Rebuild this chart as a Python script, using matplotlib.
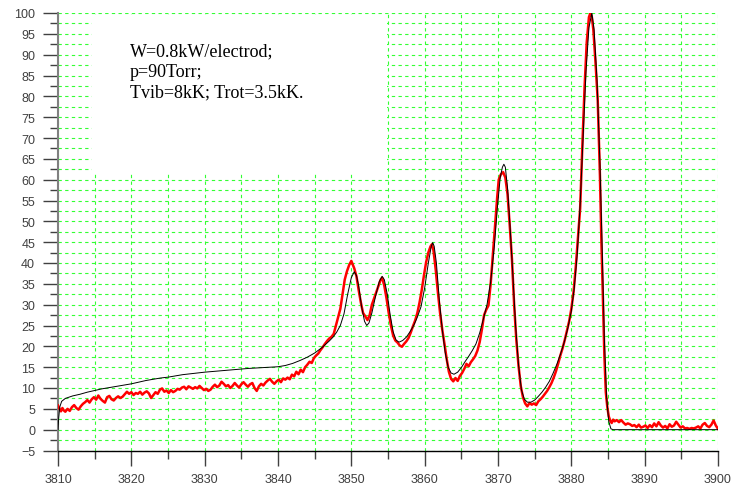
import numpy as np
import matplotlib
matplotlib.use("Agg")
import matplotlib.pyplot as plt
from matplotlib.patches import Rectangle
from matplotlib.ticker import MultipleLocator

# measured spectrum (red)
meas_x = [3810.0, 3810.2, 3810.4, 3810.6, 3810.8, 3811.0, 3811.3, 3811.6, 3811.9, 3812.2,
          3812.5, 3812.8, 3813.1, 3813.4, 3813.7, 3814.0, 3814.3, 3814.6, 3814.9, 3815.2,
          3815.5, 3815.8, 3816.1, 3816.4, 3816.7, 3817.0, 3817.3, 3817.6, 3817.9, 3818.2,
          3818.5, 3818.8, 3819.1, 3819.4, 3819.7, 3820.0, 3820.3, 3820.6, 3820.9, 3821.2,
          3821.5, 3821.8, 3822.1, 3822.4, 3822.7, 3823.0, 3823.3, 3823.6, 3823.9, 3824.2,
          3824.5, 3824.8, 3825.1, 3825.4, 3825.7, 3826.0, 3826.3, 3826.6, 3826.9, 3827.2,
          3827.5, 3827.8, 3828.1, 3828.4, 3828.7, 3829.0, 3829.3, 3829.6, 3829.9, 3830.2,
          3830.5, 3830.8, 3831.1, 3831.4, 3831.7, 3832.0, 3832.3, 3832.6, 3832.9, 3833.2,
          3833.5, 3833.8, 3834.1, 3834.4, 3834.7, 3835.0, 3835.3, 3835.6, 3835.9, 3836.2,
          3836.5, 3836.8, 3837.1, 3837.4, 3837.7, 3838.0, 3838.3, 3838.6, 3838.9, 3839.2,
          3839.5, 3839.8, 3840.1, 3840.4, 3840.7, 3841.0, 3841.3, 3841.6, 3841.9, 3842.2,
          3842.5, 3842.8, 3843.1, 3843.4, 3843.7, 3844.0, 3844.3, 3844.6, 3844.9, 3845.2,
          3845.5, 3845.8, 3846.1, 3846.4, 3846.7, 3847.0, 3847.3, 3847.6, 3847.9, 3848.2,
          3848.5, 3848.8, 3849.1, 3849.4, 3849.7, 3850.0, 3850.2, 3850.4, 3850.7, 3851.0,
          3851.3, 3851.6, 3851.9, 3852.2, 3852.5, 3852.8, 3853.1, 3853.4, 3853.7, 3854.0,
          3854.2, 3854.5, 3854.8, 3855.1, 3855.4, 3855.7, 3856.0, 3856.3, 3856.6, 3856.9,
          3857.2, 3857.5, 3857.8, 3858.1, 3858.4, 3858.7, 3859.0, 3859.3, 3859.6, 3859.9,
          3860.2, 3860.5, 3860.8, 3861.0, 3861.2, 3861.5, 3861.8, 3862.1, 3862.4, 3862.7,
          3863.0, 3863.3, 3863.6, 3863.9, 3864.2, 3864.5, 3864.8, 3865.1, 3865.4, 3865.7,
          3866.0, 3866.3, 3866.6, 3866.9, 3867.2, 3867.5, 3867.8, 3868.1, 3868.4, 3868.7,
          3869.0, 3869.3, 3869.6, 3869.9, 3870.1, 3870.4, 3870.7, 3871.0, 3871.3, 3871.6,
          3871.9, 3872.2, 3872.5, 3872.8, 3873.1, 3873.4, 3873.7, 3874.0, 3874.3, 3874.6,
          3874.9, 3875.2, 3875.5, 3875.8, 3876.1, 3876.4, 3876.7, 3877.0, 3877.3, 3877.6,
          3877.9, 3878.2, 3878.5, 3878.8, 3879.1, 3879.4, 3879.7, 3880.0, 3880.3, 3880.6,
          3880.9, 3881.2, 3881.5, 3881.8, 3882.1, 3882.4, 3882.6, 3882.8, 3883.0, 3883.3,
          3883.6, 3883.9, 3884.1, 3884.3, 3884.5, 3884.7, 3884.9, 3885.1, 3885.3, 3885.5,
          3885.7, 3885.9, 3886.2, 3886.5, 3886.8, 3887.1, 3887.4, 3887.7, 3888.0, 3888.3,
          3888.6, 3888.9, 3889.2, 3889.5, 3889.8, 3890.1, 3890.4, 3890.7, 3891.0, 3891.3,
          3891.6, 3891.9, 3892.2, 3892.5, 3892.8, 3893.1, 3893.4, 3893.7, 3894.0, 3894.3,
          3894.6, 3894.9, 3895.2, 3895.5, 3895.8, 3896.1, 3896.4, 3896.7, 3897.0, 3897.3,
          3897.6, 3897.9, 3898.2, 3898.5, 3898.8, 3899.1, 3899.4, 3899.7, 3900.0]
meas_y = [5.8, 5.0, 4.4, 5.2, 4.6, 4.3, 5.0, 4.5, 5.4, 5.9,
          5.2, 4.8, 5.6, 6.2, 6.6, 7.1, 6.5, 7.3, 7.8, 7.2,
          8.2, 7.4, 6.9, 6.5, 7.8, 8.1, 7.3, 7.0, 7.6, 8.0,
          7.6, 7.9, 8.5, 9.1, 8.6, 9.0, 8.3, 8.8, 8.6, 9.1,
          8.4, 8.9, 9.2, 8.7, 7.6, 8.3, 9.0, 8.6, 9.6, 9.9,
          9.1, 9.4, 8.8, 9.5, 9.0, 9.3, 9.8, 9.6, 10.1, 10.3,
          9.7, 10.4, 10.1, 9.8, 10.2, 9.9, 10.5, 10.0, 9.5, 9.8,
          9.3, 9.6, 10.3, 10.8, 10.2, 10.6, 11.5, 11.0, 10.4, 10.7,
          10.0, 10.5, 11.2, 10.6, 10.1, 10.9, 11.4, 10.8, 10.3, 10.9,
          11.2, 10.0, 9.3, 10.4, 11.0, 10.6, 11.3, 11.8, 12.2, 11.5,
          11.0, 11.6, 12.0, 11.4, 12.3, 12.0, 12.5, 12.1, 13.2, 12.8,
          13.9, 13.3, 14.4, 13.8, 15.0, 15.6, 16.3, 16.0, 17.2, 17.8,
          18.3, 19.1, 19.8, 20.6, 21.3, 21.9, 22.3, 23.0, 25.0, 27.0,
          29.0, 32.5, 36.0, 38.0, 39.5, 40.5, 39.6, 38.7, 36.8, 33.5,
          30.5, 28.0, 27.2, 26.3, 27.5, 30.0, 31.5, 33.0, 34.5, 36.0,
          36.5, 34.5, 31.5, 28.0, 25.0, 22.6, 21.4, 20.9, 20.2, 19.9,
          20.6, 21.2, 22.0, 23.3, 24.8, 26.2, 28.0, 30.5, 33.5, 37.0,
          40.2, 42.5, 44.0, 44.5, 43.0, 38.5, 33.0, 28.0, 24.0, 20.6,
          17.0, 13.9, 12.2, 11.6, 12.4, 11.7, 12.9, 13.6, 14.6, 15.8,
          15.2, 16.2, 16.9, 17.7, 19.0, 21.0, 24.0, 27.5, 28.8, 29.8,
          35.0, 42.0, 49.0, 56.0, 60.0, 61.3, 61.8, 60.5, 56.5, 49.0,
          41.0, 30.0, 21.5, 15.3, 10.5, 7.8, 6.3, 5.6, 6.4, 6.0,
          6.3, 5.9, 6.8, 7.3, 7.9, 8.6, 9.3, 10.2, 11.2, 12.5,
          14.0, 15.8, 17.8, 19.5, 21.5, 23.8, 26.0, 29.0, 33.0, 39.0,
          46.0, 53.0, 68.0, 82.0, 93.0, 99.0, 100.0, 99.0, 96.0, 88.0,
          79.0, 61.0, 45.0, 32.0, 18.0, 9.0, 5.5, 3.2, 2.2, 1.6,
          2.4, 2.0, 2.3, 1.8, 2.3, 1.7, 1.2, 1.5, 1.3, 0.9,
          1.1, 0.6, 1.2, 0.5, 0.7, 1.0, 0.4, 1.1, 0.6, 1.5,
          0.8, 1.8, 1.0, 0.5, 0.9, 0.3, 1.3, 0.7, 1.0, 1.9,
          1.2, 0.5, 0.8, 0.3, 0.4, 0.2, 0.4, 0.3, 0.5, 0.8,
          0.3, 1.2, 1.6, 0.9, 0.6, 1.2, 2.2, 1.0, 0.2]

# simulated spectrum (black)
sim_x = [3810.0, 3810.1, 3810.25, 3810.5, 3811.0, 3812.0, 3813.0, 3814.0, 3815.0, 3816.0,
         3817.0, 3818.0, 3819.0, 3820.0, 3821.0, 3822.0, 3823.0, 3824.0, 3825.0, 3826.0,
         3827.0, 3828.0, 3830.0, 3832.0, 3834.0, 3836.0, 3838.0, 3840.0, 3841.0, 3842.0,
         3843.0, 3844.0, 3845.0, 3846.0, 3847.0, 3847.5, 3848.0, 3848.5, 3849.0, 3849.5,
         3850.0, 3850.4, 3850.7, 3851.0, 3851.4, 3851.8, 3852.1, 3852.4, 3852.8, 3853.3,
         3853.8, 3854.2, 3854.5, 3854.9, 3855.3, 3855.7, 3856.1, 3856.5, 3857.0, 3857.5,
         3858.0, 3858.5, 3859.0, 3859.5, 3860.0, 3860.5, 3860.9, 3861.1, 3861.3, 3861.6,
         3862.0, 3862.4, 3862.8, 3863.2, 3863.6, 3864.0, 3864.5, 3865.0, 3865.5, 3866.0,
         3866.5, 3867.0, 3867.5, 3868.0, 3868.5, 3869.0, 3869.5, 3869.9, 3870.3, 3870.6,
         3870.8, 3871.0, 3871.3, 3871.6, 3872.0, 3872.4, 3872.8, 3873.2, 3873.6, 3874.0,
         3874.5, 3875.0, 3875.5, 3876.0, 3876.5, 3877.0, 3877.5, 3878.0, 3878.5, 3879.0,
         3879.5, 3880.0, 3880.4, 3880.8, 3881.2, 3881.6, 3882.0, 3882.4, 3882.8, 3883.1,
         3883.5, 3883.9, 3884.2, 3884.5, 3884.8, 3885.1, 3885.4, 3885.7, 3900.0]
sim_y = [0.0, 3.0, 5.5, 6.8, 7.5, 8.1, 8.5, 9.0, 9.4, 9.8,
         10.1, 10.4, 10.7, 11.0, 11.4, 11.8, 12.1, 12.4, 12.6, 12.9,
         13.2, 13.4, 13.8, 14.1, 14.4, 14.7, 14.9, 15.1, 15.4, 15.9,
         16.6, 17.4, 18.4, 19.7, 21.3, 22.2, 23.4, 25.0, 27.8, 32.5,
         36.5, 37.9, 37.0, 34.5, 29.5, 26.0, 25.0, 25.6, 28.0, 32.0,
         35.5, 36.8, 36.0, 32.5, 27.5, 23.5, 21.5, 21.0, 21.4, 22.2,
         23.5, 25.0, 27.0, 29.5, 34.0, 40.0, 44.0, 44.9, 44.0, 40.0,
         31.0, 24.0, 18.5, 15.0, 13.6, 13.3, 13.8, 14.9, 16.3, 17.6,
         19.0, 20.6, 23.2, 26.5, 30.0, 35.5, 44.0, 53.0, 60.5, 63.0,
         63.7, 63.0, 58.0, 50.0, 38.0, 25.0, 15.5, 9.5, 7.3, 6.6,
         6.6, 7.1, 8.0, 9.0, 10.2, 11.6, 13.5, 15.6, 18.0, 20.8,
         24.2, 28.5, 34.0, 42.0, 54.0, 70.0, 86.0, 96.5, 100.0, 96.0,
         84.0, 64.0, 44.0, 22.0, 8.0, 2.0, 0.2, 0.0, 0.0]

note = "W=0.8kW/electrod;\np=90Torr;\nTvib=8kK; Trot=3.5kK."

plt.rcParams['font.family'] = ['Liberation Sans', 'DejaVu Sans']

fig = plt.figure(figsize=(7.34, 4.89), dpi=100)
ax = fig.add_axes([58/734, 37.5/489, 660/734, 437.5/489])

ax.set_xlim(3810, 3900)
ax.set_ylim(-5, 100)

ax.xaxis.set_major_locator(MultipleLocator(10))
ax.xaxis.set_minor_locator(MultipleLocator(5))
ax.yaxis.set_major_locator(MultipleLocator(5))
ax.yaxis.set_minor_locator(MultipleLocator(2.5))

ax.set_axisbelow(True)
ax.grid(which='both', color='#33ff33', linestyle=(0, (3, 3)), linewidth=0.8)

for s in ['top', 'right']:
    ax.spines[s].set_visible(False)
ax.spines['left'].set_color('#808080')
ax.spines['left'].set_linewidth(1.5)
ax.spines['bottom'].set_color('black')
ax.spines['bottom'].set_linewidth(1.0)

ax.tick_params(which='major', length=10.5, width=1, color='#404040',
               labelsize=9, labelcolor='#404040', pad=6)
ax.tick_params(which='minor', length=5.5, width=1, color='#404040')

# white box behind the annotation
ax.add_patch(Rectangle((3814.6, 61.3), 40.3, 38.3, facecolor='white',
                       edgecolor='none', zorder=1))

ax.plot(meas_x, meas_y, color='red', linewidth=1.8, zorder=3)
ax.plot(sim_x, sim_y, color='black', linewidth=0.7, zorder=4)

fig.text(130/734, 1 - 43/489, note, ha='left', va='top',
         family='Liberation Serif', fontsize=13, linespacing=1.28)

fig.savefig('out.png', dpi=100, facecolor='white')
